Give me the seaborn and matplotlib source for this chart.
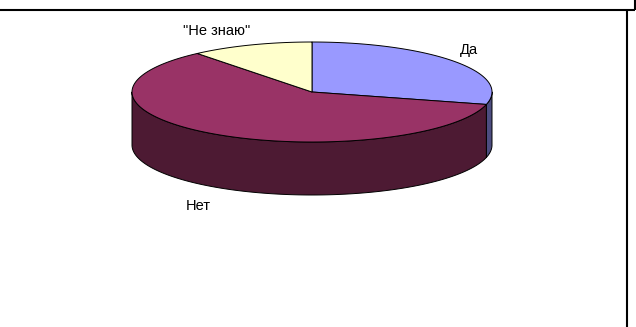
import numpy as np
import matplotlib
matplotlib.use("Agg")
import matplotlib.pyplot as plt
from matplotlib.lines import Line2D
import seaborn as sns

# Survey answers, drawn clockwise from 12 o'clock
labels = ["Да", "Нет", "\"Не знаю\""]
values = [29, 60, 11]
top_colors = ["#9999FF", "#993366", "#FFFFCC"]
side_colors = ["#4D4D80", "#4D1A33", "#80806A"]

sns.set_theme(style="white")
plt.rcParams["font.family"] = ["Liberation Sans", "DejaVu Sans"]

W, H = 636, 327
fig = plt.figure(figsize=(W / 100, H / 100), dpi=100)
ax = fig.add_axes([0, 0, 1, 1])
ax.set_xlim(0, W)
ax.set_ylim(H, 0)
ax.axis("off")

# tilted disc geometry (pixel units)
cx, cy, rx, ry, depth = 312, 92, 180, 50, 53

fractions = np.array(values, dtype=float) / np.sum(values)
bounds = 90 - 360 * np.concatenate([[0], np.cumsum(fractions)])


def arc(a, b, dy=0.0, n=200):
    t = np.radians(np.linspace(a, b, n))
    return cx + rx * np.cos(t), cy - ry * np.sin(t) + dy


# side walls: only the front half (angles between -180 and 0) is visible
for i in range(len(values)):
    hi, lo = bounds[i], bounds[i + 1]
    a, b = max(lo, -180), min(hi, 0)
    if a >= b:
        continue
    xt, yt = arc(a, b)
    xb, yb = arc(b, a, dy=depth)
    ax.fill(np.concatenate([xt, xb]), np.concatenate([yt, yb]),
            facecolor=side_colors[i], edgecolor="black", linewidth=0.7,
            joinstyle="round")

# top faces
for i in range(len(values)):
    hi, lo = bounds[i], bounds[i + 1]
    xs, ys = arc(hi, lo)
    ax.fill(np.concatenate([[cx], xs]), np.concatenate([[cy], ys]),
            facecolor=top_colors[i], edgecolor="black", linewidth=0.7,
            joinstyle="round")

# slice labels
label_pos = [(469, 50), (198, 206), (217, 31)]
for text, (x, y) in zip(labels, label_pos):
    ax.text(x, y, text, ha="center", va="center", fontsize=10.5, color="black")

# surrounding table frame
frame = dict(color="black", linewidth=1.5, transform=ax.transData,
             solid_capstyle="butt")
ax.add_line(Line2D([0, 635], [9.5, 9.5], **frame))
ax.add_line(Line2D([634.5, 634.5], [0, 9.5], **frame))
ax.add_line(Line2D([626.5, 626.5], [9.5, H], **frame))

fig.savefig("out.png", dpi=100)
